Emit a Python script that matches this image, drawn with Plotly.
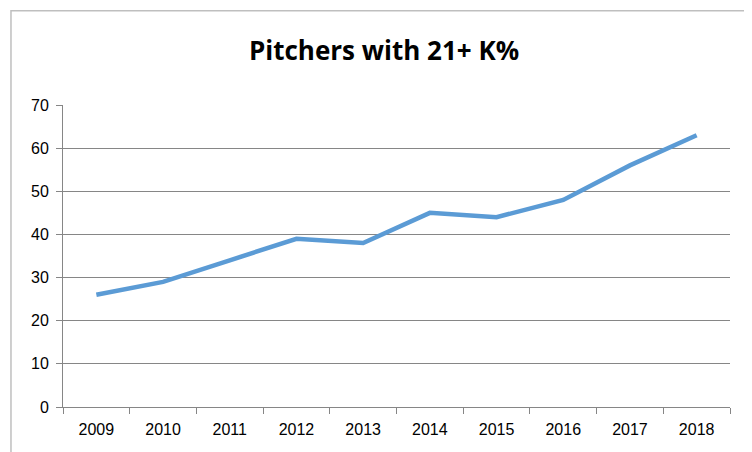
import plotly.graph_objects as go

years = ["2009", "2010", "2011", "2012", "2013", "2014", "2015", "2016", "2017", "2018"]
pitchers = [26, 29, 34, 39, 38, 45, 44, 48, 56, 63]

fig = go.Figure()
fig.add_trace(go.Scatter(x=years, y=pitchers, mode="lines",
                         line=dict(color="#5B9BD5", width=4.5)))

fig.update_layout(
    width=752, height=452,
    paper_bgcolor="white", plot_bgcolor="white",
    margin=dict(l=55, r=30, t=97, b=53, autoexpand=False),
    showlegend=False,
    title=dict(text="<b>Pitchers with 21+ K%</b>", x=0.5, xanchor="center",
               y=0.905, yanchor="middle",
               font=dict(family="Open Sans", size=26, color="black")),
    font=dict(family="Liberation Sans", size=16, color="black"),
    shapes=[dict(type="rect", xref="paper", yref="paper", x0=-0.078, x1=1.038,
                 y0=-0.163, y1=1.312, line=dict(color="#BFBFBF", width=1.5))],
)
fig.update_xaxes(type="category", range=[-0.5, 9.5], showgrid=False, showline=True,
                 linecolor="#868686", ticks="outside", tickson="boundaries",
                 ticklen=6, tickcolor="#868686", ticklabelstandoff=8)
fig.update_yaxes(range=[0, 70], dtick=10, showgrid=True, gridcolor="#868686",
                 showline=True, linecolor="#868686", ticks="outside", ticklen=6,
                 tickcolor="#868686", zeroline=False, ticklabelstandoff=4)

fig.write_html("out.html")
